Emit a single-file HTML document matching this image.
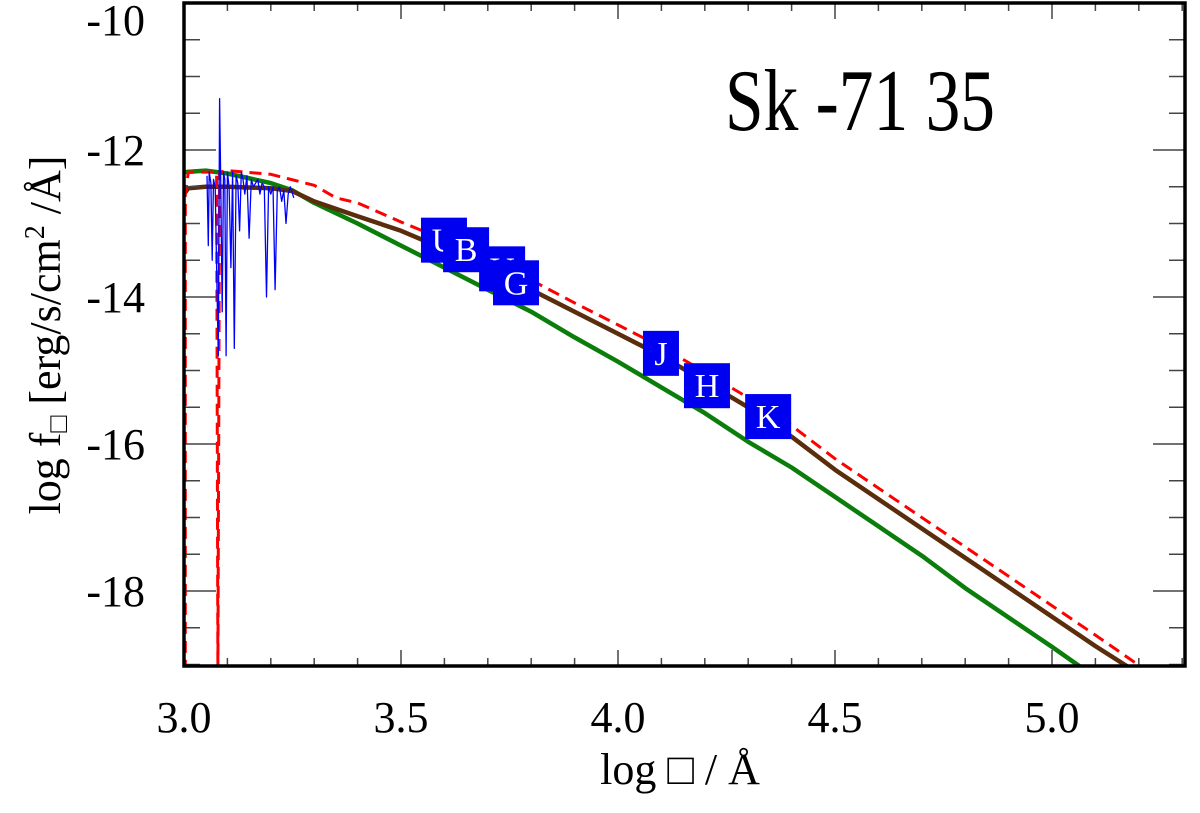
<!DOCTYPE html>
<html><head><meta charset="utf-8"><style>
html,body{margin:0;padding:0;background:#fff;}
svg{display:block;font-family:"Liberation Serif",serif;}
</style></head><body>
<svg id="chart" width="1200" height="813" viewBox="0 0 1200 813" xmlns="http://www.w3.org/2000/svg">
<g id="plot"></g>
<g id="axes"></g>
<text x="725" y="130" font-size="88" textLength="270" lengthAdjust="spacingAndGlyphs">Sk -71 35</text>
<text x="680" y="784" font-size="44" text-anchor="middle">log □ / Å</text>
<text transform="translate(60,335) rotate(-90)" font-size="44" text-anchor="middle">log f<tspan font-size="28" dy="7">□</tspan><tspan dy="-7">  [erg/s/cm</tspan><tspan font-size="28" dy="-16">2</tspan><tspan dy="16"> /Å]</tspan></text>
</svg>
<script>
const greenX=[3.0,3.05,3.1,3.2,3.25,3.3,3.4,3.5,3.6,3.7,3.8,3.9,4.0,4.1,4.2,4.3,4.4,4.5,4.6,4.7,4.8,4.9,5.0,5.07];
const greenY=[-12.3,-12.28,-12.32,-12.45,-12.55,-12.72,-13.0,-13.3,-13.6,-13.9,-14.2,-14.55,-14.88,-15.23,-15.58,-15.97,-16.32,-16.72,-17.12,-17.52,-17.96,-18.36,-18.76,-19.05];
const brownX=[3.0,3.01,3.05,3.1,3.2,3.25,3.3,3.4,3.5,3.6,3.7,3.8,3.9,4.0,4.1,4.2,4.3,4.4,4.5,4.6,4.7,4.8,4.9,5.0,5.1,5.18];
const brownY=[-12.6,-12.52,-12.5,-12.5,-12.52,-12.56,-12.7,-12.9,-13.1,-13.35,-13.6,-13.9,-14.2,-14.5,-14.8,-15.15,-15.5,-15.9,-16.35,-16.75,-17.15,-17.55,-17.95,-18.35,-18.75,-19.05];
const redX=[3.003,3.003,3.01,3.075,3.078,3.082,3.1,3.2,3.3,3.35,3.4,3.5,3.6,3.7,3.8,3.9,4.0,4.1,4.2,4.3,4.4,4.5,4.6,4.7,4.8,4.9,5.0,5.1,5.21];
const redY=[-19.1,-12.6,-12.3,-12.3,-19.1,-12.3,-12.28,-12.33,-12.48,-12.65,-12.72,-12.98,-13.22,-13.47,-13.77,-14.08,-14.38,-14.68,-15.02,-15.37,-15.75,-16.2,-16.6,-17.0,-17.4,-17.8,-18.2,-18.6,-19.05];
const blueX=[3.053,3.056,3.058,3.062,3.065,3.068,3.072,3.076,3.079,3.082,3.085,3.088,3.091,3.094,3.097,3.1,3.104,3.108,3.112,3.116,3.12,3.124,3.128,3.132,3.136,3.14,3.145,3.15,3.155,3.16,3.165,3.17,3.175,3.18,3.185,3.19,3.195,3.2,3.205,3.21,3.215,3.22,3.225,3.23,3.235,3.24,3.245,3.253];
const blueY=[-12.35,-13.3,-12.3,-12.45,-13.5,-12.4,-12.5,-13.9,-14.8,-11.3,-12.6,-14.2,-12.3,-12.4,-14.8,-12.3,-12.5,-13.6,-12.3,-14.7,-12.35,-12.45,-13.1,-12.3,-12.4,-12.6,-12.35,-13.2,-12.4,-12.5,-12.45,-12.4,-12.6,-12.45,-12.5,-14.0,-12.5,-12.6,-12.5,-13.9,-12.55,-12.5,-12.7,-12.55,-13.0,-12.6,-12.5,-12.65];
const photBands=["U","B","V","G","J","H","K"];
const photX=[3.599,3.650,3.733,3.765,4.099,4.205,4.346];
const photY=[-13.22,-13.35,-13.61,-13.80,-14.76,-15.20,-15.62];
const xTicks=[3.0,3.5,4.0,4.5,5.0];
const xTickLabels=["3.0","3.5","4.0","4.5","5.0"];
const yTicks=[-10,-12,-14,-16,-18];
const yTickLabels=["-10","-12","-14","-16","-18"];

const NS="http://www.w3.org/2000/svg";
const L=184,R=1185,T=3,B=666;
const sx=v=>L+(v-3.0)*434;
const sy=v=>T+(-10-v)*73.5;
function mk(tag,attrs,parent){const e=document.createElementNS(NS,tag);for(const k in attrs)e.setAttribute(k,attrs[k]);parent.appendChild(e);return e;}
const plot=document.getElementById('plot'),axes=document.getElementById('axes');
const defs=mk('defs',{},plot);
const cp=mk('clipPath',{id:'clip'},defs);mk('rect',{x:L,y:T,width:R-L,height:B-T},cp);
const g=mk('g',{'clip-path':'url(#clip)'},plot);
function line(xs,ys,style,name){
  const d=xs.map((x,i)=>(i?'L':'M')+sx(x).toFixed(1)+','+sy(ys[i]).toFixed(1)).join('');
  const p=mk('path',Object.assign({d:d,fill:'none','stroke-linejoin':'round'},style),g);
  
  
}
line(greenX,greenY,{stroke:'#0a7d0a','stroke-width':4.5},'model-green-line');
line(brownX,brownY,{stroke:'#5a2d0c','stroke-width':4.5},'model-brown-line');
line(redX,redY,{stroke:'#f00','stroke-width':3,'stroke-dasharray':'12,7'},'model-red-dashed-line');
line(blueX,blueY,{stroke:'#00f','stroke-width':1.3},'observed-spectrum');
photBands.forEach((b,i)=>{
  const cx=sx(photX[i]),cy=sy(photY[i]);
  const w=(b==="J")?36:46;
  const r=mk('rect',{x:cx-w/2,y:cy-22,width:w,height:45,fill:'#0000f0'},g);
  
  
  const t=mk('text',{x:cx,y:cy+12,'text-anchor':'middle','font-size':34,fill:'#fff'},g);
  t.textContent=b;
  
  
});
const tk={stroke:'#444','stroke-width':1.5};
for(let v=3.0;v<=5.301;v+=0.1){
  const x=sx(v),maj=Math.abs(v*2-Math.round(v*2))<1e-6,len=maj?16:8;
  mk('line',Object.assign({x1:x,x2:x,y1:B,y2:B-len},tk),axes);
  mk('line',Object.assign({x1:x,x2:x,y1:T,y2:T+len},tk),axes);
}
for(let v=-10;v>=-19.001;v-=0.5){
  const y=sy(v),maj=Math.abs(v/2-Math.round(v/2))<1e-6,len=maj?32:16;
  mk('line',Object.assign({x1:L,x2:L+len,y1:y,y2:y},tk),axes);
  mk('line',Object.assign({x1:R,x2:R-len,y1:y,y2:y},tk),axes);
}
const fr=mk('rect',{x:L,y:T,width:R-L,height:B-T,fill:'none',stroke:'#000','stroke-width':3.5},axes);


xTicks.forEach((v,i)=>{
  const t=mk('text',{x:sx(v),y:732,'text-anchor':'middle','font-size':44},axes);
  t.textContent=xTickLabels[i];
  
  
});
yTicks.forEach((v,i)=>{
  const yy=v===-10?35:sy(v)+15;
  const t=mk('text',{x:145,y:yy,'text-anchor':'end','font-size':44},axes);
  t.textContent=yTickLabels[i];
  
  
});
</script>
</body></html>
